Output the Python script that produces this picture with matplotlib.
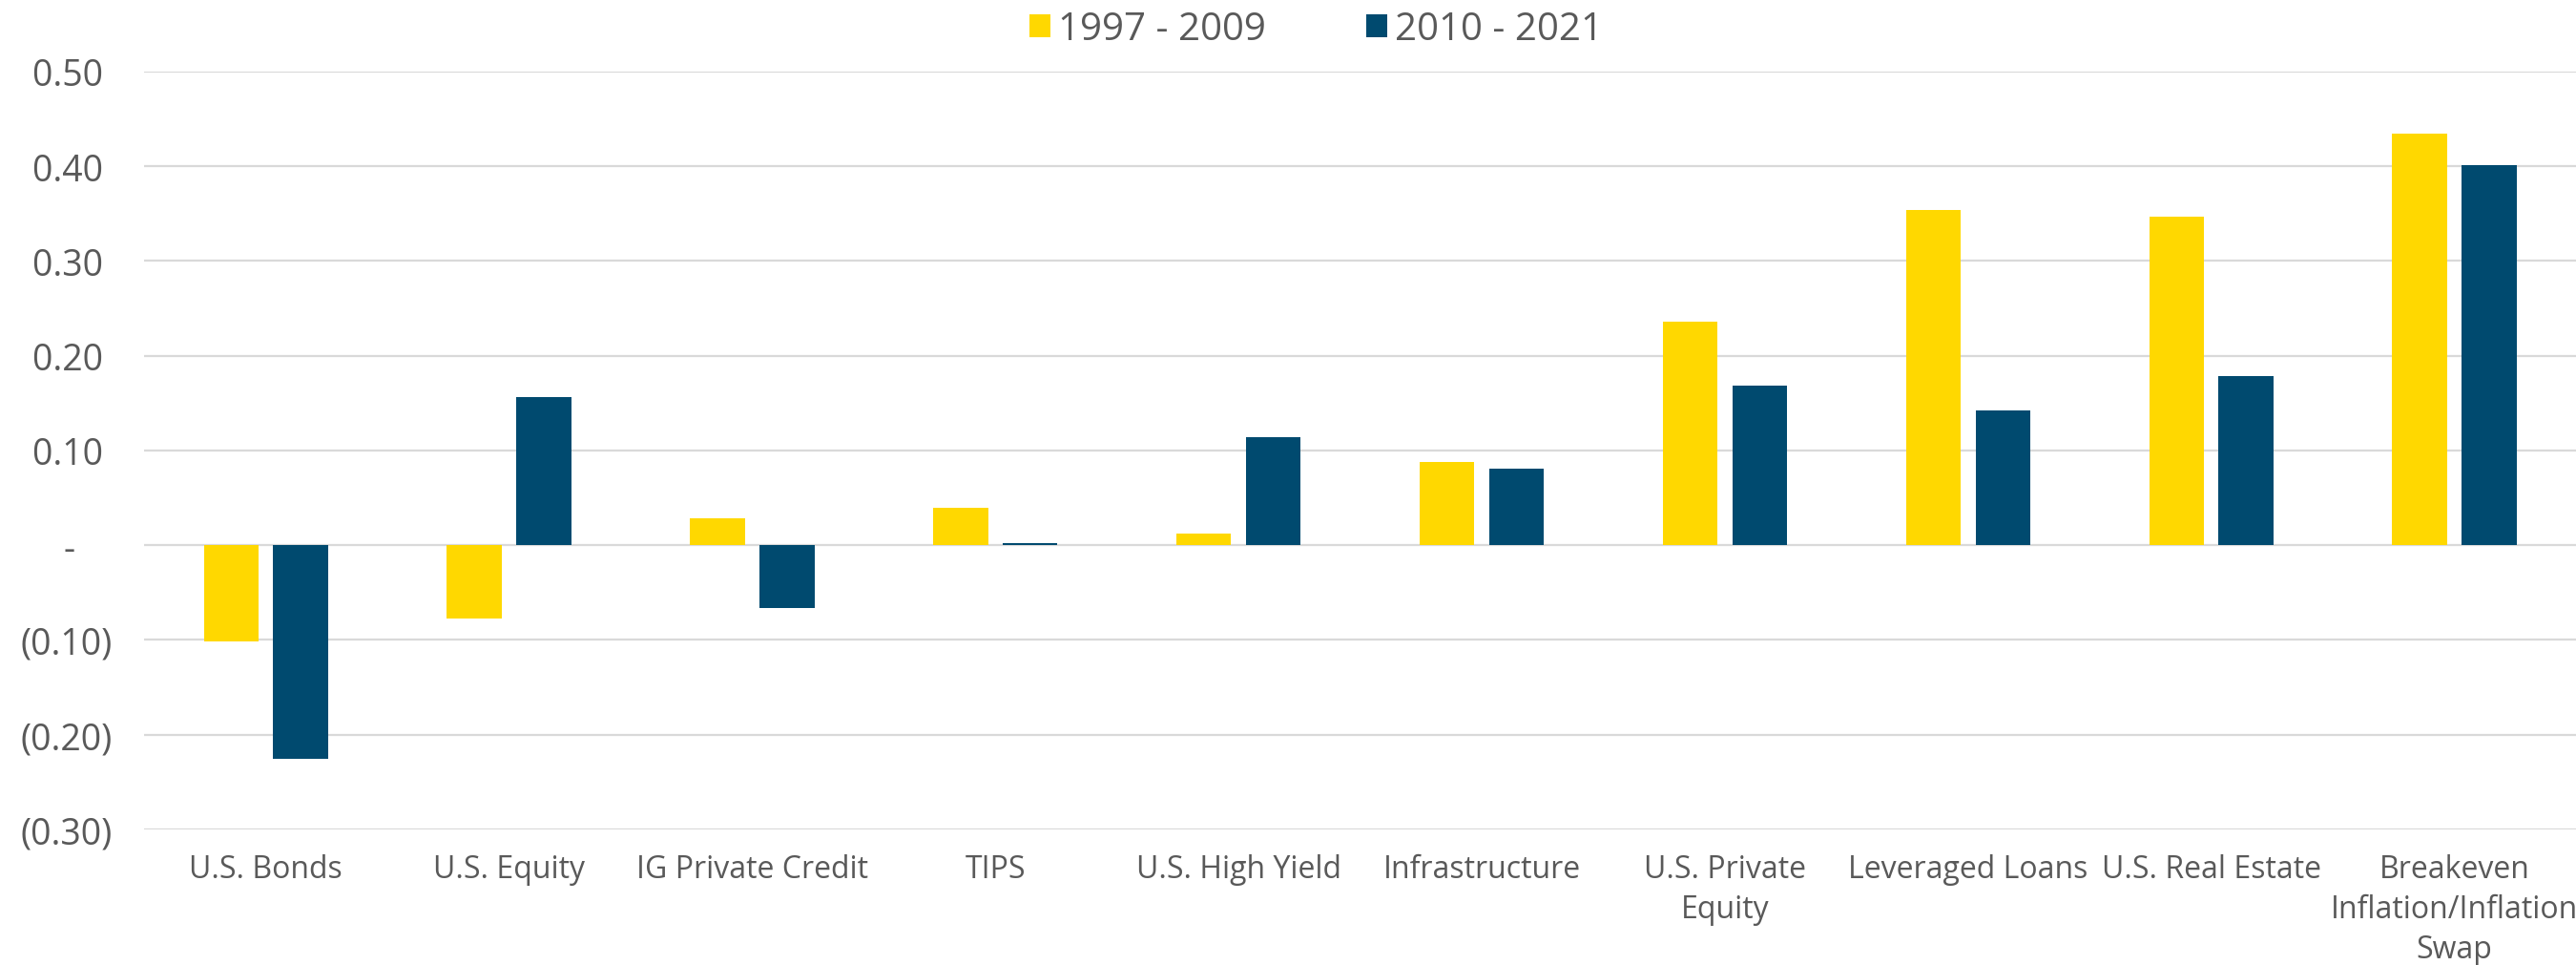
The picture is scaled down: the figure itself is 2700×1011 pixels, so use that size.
import numpy as np
import matplotlib
matplotlib.use("Agg")
from matplotlib import pyplot as plt
from matplotlib.ticker import FuncFormatter

plt.rcParams['font.family'] = ['Open Sans', 'DejaVu Sans']

categories = ["U.S. Bonds", "U.S. Equity", "IG Private Credit", "TIPS", "U.S. High Yield",
              "Infrastructure", "U.S. Private\nEquity", "Leveraged Loans", "U.S. Real Estate",
              "Breakeven\nInflation/Inflation\nSwap"]
series_names = ["1997 - 2009", "2010 - 2021"]
vals_1997_2009 = [-0.102, -0.077, 0.028, 0.039, 0.012, 0.088, 0.236, 0.354, 0.347, 0.434]
vals_2010_2021 = [-0.225, 0.156, -0.066, 0.002, 0.114, 0.081, 0.168, 0.142, 0.178, 0.401]
yticks = [-0.30, -0.20, -0.10, 0.0, 0.10, 0.20, 0.30, 0.40, 0.50]

yellow = "#FFD800"
navy = "#004A6F"
txt = "#595959"

fig = plt.figure(figsize=(27, 10.12), dpi=100)
ax = fig.add_axes([0.056, 0.1403, 0.944, 0.7848])

x = np.arange(len(categories))
w = 0.225
off = 0.143
ax.bar(x - off, vals_1997_2009, w, color=yellow, label=series_names[0], zorder=3)
ax.bar(x + off, vals_2010_2021, w, color=navy, label=series_names[1], zorder=3)

ax.set_xlim(-0.5, len(categories) - 0.5)
ax.set_ylim(-0.30, 0.50)
ax.set_yticks(yticks)

def fmt(v, pos):
    if abs(v) < 1e-9:
        return "-    "
    if v < 0:
        return "(%.2f)" % -v
    return "%.2f " % v

ax.yaxis.set_major_formatter(FuncFormatter(fmt))
ax.grid(axis='y', color="#D9D9D9", linewidth=1.6, zorder=0)
for s in ax.spines.values():
    s.set_visible(False)
ax.tick_params(axis='y', length=0, pad=24, labelsize=27, labelcolor=txt)
ax.set_xticks(x)
ax.set_xticklabels(categories, fontsize=23, color=txt, linespacing=1.35)
ax.tick_params(axis='x', length=0, pad=18)

# legend sits a bit right of centre in the original
leg = fig.legend(loc='upper center', bbox_to_anchor=(0.511, 1.024), ncol=2, frameon=False,
                 fontsize=29, handlelength=0.55, handleheight=0.55, handletextpad=0.2,
                 columnspacing=2.6)
for t in leg.get_texts():
    t.set_color(txt)

fig.savefig("out.png", dpi=100)
